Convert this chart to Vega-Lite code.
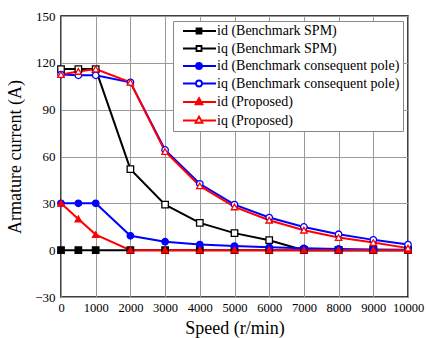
{
  "$schema": "https://vega.github.io/schema/vega-lite/v6.json",
  "width": 347,
  "height": 281,
  "autosize": {"type": "none"},
  "padding": {"left": 61, "top": 16, "right": 19, "bottom": 41},
  "background": "white",
  "config": {
    "font": "Liberation Serif",
    "style": {"guide-label": {"font": "Liberation Serif"}, "guide-title": {"font": "Liberation Serif"}},
    "view": {"stroke": "black", "strokeWidth": 1.5},
    "axis": {
      "labelFont": "Liberation Serif",
      "labelFontSize": 13,
      "labelColor": "black",
      "titleFont": "Liberation Serif",
      "titleFontSize": 18,
      "titleFontWeight": "normal",
      "titleColor": "black",
      "domain": false,
      "ticks": false,
      "grid": true,
      "gridColor": "#9a9a9a",
      "gridWidth": 1,
      "labelOverlap": false,
      "labelFlush": false
    },
    "legend": {"labelFont": "Liberation Serif", "labelFontSize": 14}
  },
  "data": {
    "values": [
      {"speed": 0, "current": 0, "series": "id (Benchmark SPM)"},
      {"speed": 500, "current": 0, "series": "id (Benchmark SPM)"},
      {"speed": 1000, "current": 0, "series": "id (Benchmark SPM)"},
      {"speed": 2000, "current": 0, "series": "id (Benchmark SPM)"},
      {"speed": 3000, "current": 0, "series": "id (Benchmark SPM)"},
      {"speed": 4000, "current": 0, "series": "id (Benchmark SPM)"},
      {"speed": 5000, "current": 0, "series": "id (Benchmark SPM)"},
      {"speed": 6000, "current": 0, "series": "id (Benchmark SPM)"},
      {"speed": 7000, "current": 0, "series": "id (Benchmark SPM)"},
      {"speed": 8000, "current": 0, "series": "id (Benchmark SPM)"},
      {"speed": 9000, "current": 0, "series": "id (Benchmark SPM)"},
      {"speed": 10000, "current": 0, "series": "id (Benchmark SPM)"},

      {"speed": 0, "current": 116, "series": "iq (Benchmark SPM)"},
      {"speed": 500, "current": 116, "series": "iq (Benchmark SPM)"},
      {"speed": 1000, "current": 116, "series": "iq (Benchmark SPM)"},
      {"speed": 2000, "current": 51.9, "series": "iq (Benchmark SPM)"},
      {"speed": 3000, "current": 29.2, "series": "iq (Benchmark SPM)"},
      {"speed": 4000, "current": 17.5, "series": "iq (Benchmark SPM)"},
      {"speed": 5000, "current": 10.9, "series": "iq (Benchmark SPM)"},
      {"speed": 6000, "current": 6.4, "series": "iq (Benchmark SPM)"},
      {"speed": 7000, "current": 0, "series": "iq (Benchmark SPM)"},
      {"speed": 8000, "current": 0, "series": "iq (Benchmark SPM)"},
      {"speed": 9000, "current": 0, "series": "iq (Benchmark SPM)"},
      {"speed": 10000, "current": 0, "series": "iq (Benchmark SPM)"},

      {"speed": 0, "current": 30, "series": "id (Benchmark consequent pole)"},
      {"speed": 500, "current": 30, "series": "id (Benchmark consequent pole)"},
      {"speed": 1000, "current": 30, "series": "id (Benchmark consequent pole)"},
      {"speed": 2000, "current": 9.2, "series": "id (Benchmark consequent pole)"},
      {"speed": 3000, "current": 5.4, "series": "id (Benchmark consequent pole)"},
      {"speed": 4000, "current": 3.6, "series": "id (Benchmark consequent pole)"},
      {"speed": 5000, "current": 2.6, "series": "id (Benchmark consequent pole)"},
      {"speed": 6000, "current": 1.8, "series": "id (Benchmark consequent pole)"},
      {"speed": 7000, "current": 1.2, "series": "id (Benchmark consequent pole)"},
      {"speed": 8000, "current": 0.8, "series": "id (Benchmark consequent pole)"},
      {"speed": 9000, "current": 0.5, "series": "id (Benchmark consequent pole)"},
      {"speed": 10000, "current": 0.3, "series": "id (Benchmark consequent pole)"},

      {"speed": 0, "current": 112.5, "series": "iq (Benchmark consequent pole)"},
      {"speed": 500, "current": 112, "series": "iq (Benchmark consequent pole)"},
      {"speed": 1000, "current": 112, "series": "iq (Benchmark consequent pole)"},
      {"speed": 2000, "current": 107.5, "series": "iq (Benchmark consequent pole)"},
      {"speed": 3000, "current": 64.2, "series": "iq (Benchmark consequent pole)"},
      {"speed": 4000, "current": 42.5, "series": "iq (Benchmark consequent pole)"},
      {"speed": 5000, "current": 29.2, "series": "iq (Benchmark consequent pole)"},
      {"speed": 6000, "current": 20.9, "series": "iq (Benchmark consequent pole)"},
      {"speed": 7000, "current": 14.9, "series": "iq (Benchmark consequent pole)"},
      {"speed": 8000, "current": 10.2, "series": "iq (Benchmark consequent pole)"},
      {"speed": 9000, "current": 6.6, "series": "iq (Benchmark consequent pole)"},
      {"speed": 10000, "current": 3.6, "series": "iq (Benchmark consequent pole)"},

      {"speed": 0, "current": 30, "series": "id (Proposed)"},
      {"speed": 500, "current": 20, "series": "id (Proposed)"},
      {"speed": 1000, "current": 10, "series": "id (Proposed)"},
      {"speed": 2000, "current": 0, "series": "id (Proposed)"},
      {"speed": 3000, "current": 0, "series": "id (Proposed)"},
      {"speed": 4000, "current": 0, "series": "id (Proposed)"},
      {"speed": 5000, "current": 0, "series": "id (Proposed)"},
      {"speed": 6000, "current": 0, "series": "id (Proposed)"},
      {"speed": 7000, "current": 0, "series": "id (Proposed)"},
      {"speed": 8000, "current": 0, "series": "id (Proposed)"},
      {"speed": 9000, "current": 0, "series": "id (Proposed)"},
      {"speed": 10000, "current": 0, "series": "id (Proposed)"},

      {"speed": 0, "current": 112.5, "series": "iq (Proposed)"},
      {"speed": 500, "current": 114.5, "series": "iq (Proposed)"},
      {"speed": 1000, "current": 116, "series": "iq (Proposed)"},
      {"speed": 2000, "current": 107.5, "series": "iq (Proposed)"},
      {"speed": 3000, "current": 63.2, "series": "iq (Proposed)"},
      {"speed": 4000, "current": 41.2, "series": "iq (Proposed)"},
      {"speed": 5000, "current": 27.7, "series": "iq (Proposed)"},
      {"speed": 6000, "current": 19.2, "series": "iq (Proposed)"},
      {"speed": 7000, "current": 12.8, "series": "iq (Proposed)"},
      {"speed": 8000, "current": 8.1, "series": "iq (Proposed)"},
      {"speed": 9000, "current": 4.9, "series": "iq (Proposed)"},
      {"speed": 10000, "current": 1.3, "series": "iq (Proposed)"}
    ]
  },
  "encoding": {
    "x": {
      "field": "speed",
      "type": "quantitative",
      "scale": {"domain": [0, 10000], "nice": false},
      "axis": {"values": [0, 1000, 2000, 3000, 4000, 5000, 6000, 7000, 8000, 9000, 10000], "title": "Speed (r/min)", "format": "d", "labelPadding": 4, "titlePadding": 6, "labelFontSize": 12.5}
    },
    "y": {
      "field": "current",
      "type": "quantitative",
      "scale": {"domain": [-30, 150], "nice": false},
      "axis": {"values": [-30, 0, 30, 60, 90, 120, 150], "title": "Armature current (A)", "labelPadding": 6, "titlePadding": 10}
    }
  },
  "layer": [
    {
      "mark": {"type": "line", "strokeWidth": 2},
      "encoding": {
        "color": {
          "field": "series",
          "type": "nominal",
          "scale": {
            "domain": ["id (Benchmark SPM)", "iq (Benchmark SPM)", "id (Benchmark consequent pole)", "iq (Benchmark consequent pole)", "id (Proposed)", "iq (Proposed)"],
            "range": ["#000000", "#000000", "#0000ff", "#0000ff", "#ff0000", "#ff0000"]
          },
          "legend": null
        },
        "strokeWidth": {
          "field": "series",
          "type": "nominal",
          "scale": {
            "domain": ["id (Benchmark SPM)", "iq (Benchmark SPM)", "id (Benchmark consequent pole)", "iq (Benchmark consequent pole)", "id (Proposed)", "iq (Proposed)"],
            "range": [2.2, 1.5, 2.2, 2.2, 2.2, 2.2]
          },
          "legend": null
        },
        "order": {"field": "speed", "type": "quantitative"}
      }
    },
    {
      "mark": {"type": "point", "size": 42, "strokeWidth": 1.3, "opacity": 1},
      "encoding": {
        "stroke": {
          "field": "series",
          "type": "nominal",
          "scale": {
            "domain": ["id (Benchmark SPM)", "iq (Benchmark SPM)", "id (Benchmark consequent pole)", "iq (Benchmark consequent pole)", "id (Proposed)", "iq (Proposed)"],
            "range": ["#000000", "#000000", "#0000ff", "#0000ff", "#ff0000", "#ff0000"]
          },
          "legend": null
        },
        "fill": {
          "field": "series",
          "type": "nominal",
          "scale": {
            "domain": ["id (Benchmark SPM)", "iq (Benchmark SPM)", "id (Benchmark consequent pole)", "iq (Benchmark consequent pole)", "id (Proposed)", "iq (Proposed)"],
            "range": ["#000000", "#ffffff", "#0000ff", "#ffffff", "#ff0000", "#ffffff"]
          },
          "legend": null
        },
        "shape": {
          "field": "series",
          "type": "nominal",
          "scale": {
            "domain": ["id (Benchmark SPM)", "iq (Benchmark SPM)", "id (Benchmark consequent pole)", "iq (Benchmark consequent pole)", "id (Proposed)", "iq (Proposed)"],
            "range": ["square", "square", "circle", "circle", "triangle-up", "triangle-up"]
          },
          "legend": null
        }
      }
    },
    {
      "transform": [{"filter": "datum.speed < 0"}],
      "mark": {"type": "point", "strokeWidth": 1.8, "opacity": 1},
      "encoding": {
        "shape": {
          "field": "series",
          "type": "nominal",
          "scale": {
            "domain": ["id (Benchmark SPM)", "iq (Benchmark SPM)", "id (Benchmark consequent pole)", "iq (Benchmark consequent pole)", "id (Proposed)", "iq (Proposed)"],
            "range": [
              "M0,0L2.7,0M3.7,0L6.6,0M2.7,-0.5L3.7,-0.5L3.7,0.5L2.7,0.5Z",
              "M0,0L2.7,0M3.7,0L6.6,0M2.7,-0.5L3.7,-0.5L3.7,0.5L2.7,0.5Z",
              "M0,0L2.6,0M3.8,0L6.6,0M2.6,0A0.6,0.6,0,1,0,3.8,0A0.6,0.6,0,1,0,2.6,0Z",
              "M0,0L2.6,0M3.8,0L6.6,0M2.6,0A0.6,0.6,0,1,0,3.8,0A0.6,0.6,0,1,0,2.6,0Z",
              "M0,0L2.75,0M3.65,0L6.6,0M3.2,-0.8L3.9,0.45L2.5,0.45Z",
              "M0,0L2.75,0M3.65,0L6.6,0M3.2,-0.8L3.9,0.45L2.5,0.45Z"
            ]
          },
          "legend": {
            "title": null,
            "orient": "top-right",
            "offset": 5,
            "padding": 3,
            "strokeColor": "#888888",
            "fillColor": "white",
            "symbolSize": 100,
            "symbolStrokeWidth": 1.8,
            "labelOffset": 27,
            "labelFont": "Liberation Serif",
            "labelFontSize": 14,
            "labelColor": "black",
            "labelLimit": 300,
            "rowPadding": 3.5,
            "encode": {"labels": {"update": {"font": {"value": "Liberation Serif"}, "fontSize": {"value": 14}}}}
          }
        },
        "stroke": {
          "field": "series",
          "type": "nominal",
          "scale": {
            "domain": ["id (Benchmark SPM)", "iq (Benchmark SPM)", "id (Benchmark consequent pole)", "iq (Benchmark consequent pole)", "id (Proposed)", "iq (Proposed)"],
            "range": ["#000000", "#000000", "#0000ff", "#0000ff", "#ff0000", "#ff0000"]
          },
          "legend": {
            "title": null,
            "orient": "top-right",
            "offset": 5,
            "padding": 3,
            "strokeColor": "#888888",
            "fillColor": "white",
            "symbolSize": 100,
            "symbolStrokeWidth": 1.8,
            "labelOffset": 27,
            "labelFont": "Liberation Serif",
            "labelFontSize": 14,
            "labelColor": "black",
            "labelLimit": 300,
            "rowPadding": 3.5,
            "encode": {"labels": {"update": {"font": {"value": "Liberation Serif"}, "fontSize": {"value": 14}}}}
          }
        },
        "fill": {
          "field": "series",
          "type": "nominal",
          "scale": {
            "domain": ["id (Benchmark SPM)", "iq (Benchmark SPM)", "id (Benchmark consequent pole)", "iq (Benchmark consequent pole)", "id (Proposed)", "iq (Proposed)"],
            "range": ["#000000", "#ffffff", "#0000ff", "#ffffff", "#ff0000", "#ffffff"]
          },
          "legend": {
            "title": null,
            "orient": "top-right",
            "offset": 5,
            "padding": 3,
            "strokeColor": "#888888",
            "fillColor": "white",
            "symbolSize": 100,
            "symbolStrokeWidth": 1.8,
            "labelOffset": 27,
            "labelFont": "Liberation Serif",
            "labelFontSize": 14,
            "labelColor": "black",
            "labelLimit": 300,
            "rowPadding": 3.5,
            "encode": {"labels": {"update": {"font": {"value": "Liberation Serif"}, "fontSize": {"value": 14}}}}
          }
        }
      }
    }
  ],
  "resolve": {"scale": {"shape": "independent", "stroke": "independent", "fill": "independent"}}
}
